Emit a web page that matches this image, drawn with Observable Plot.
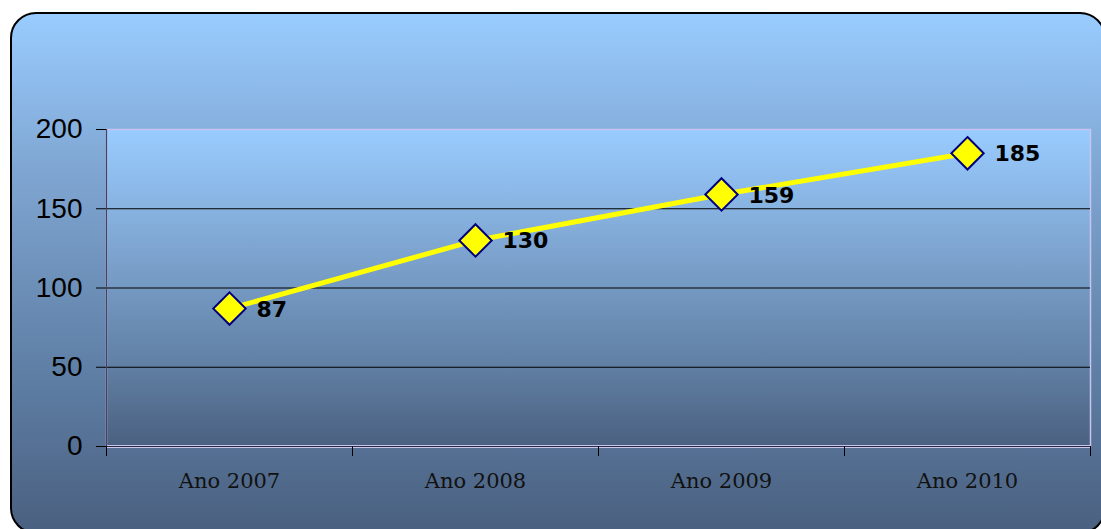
<!DOCTYPE html>
<html>
<head>
<meta charset="utf-8">
<script src="https://cdn.jsdelivr.net/npm/d3@7"></script>
<script src="https://cdn.jsdelivr.net/npm/@observablehq/plot@0.6"></script>
<style>
  html, body { margin: 0; padding: 0; width: 1101px; height: 529px; overflow: hidden; background: #fff; }
  #box {
    position: absolute; left: 10px; top: 12px; width: 1092px; height: 518px;
    border: 2px solid #000; border-radius: 26px;
    background: linear-gradient(to bottom, #99ccff 0%, #7fa6d2 30%, #5e7ea4 70%, #4a6080 100%);
  }
  #chart { position: absolute; left: 0; top: 0; }
</style>
</head>
<body>
<div id="box"></div>
<div id="chart"></div>
<script>
const categories = ["Ano 2007", "Ano 2008", "Ano 2009", "Ano 2010"];
const values = [87, 130, 159, 185];
const yTicks = [0, 50, 100, 150, 200];

const data = categories.map((c, i) => ({cat: c, pos: i + 0.5, value: values[i]}));

const plot = Plot.plot({
  width: 1101,
  height: 529,
  marginLeft: 106,
  marginRight: 11,
  marginTop: 129,
  marginBottom: 83,
  style: {background: "transparent", overflow: "visible"},
  x: {domain: [0, categories.length], axis: null},
  y: {domain: [0, 200], axis: null},
  marks: [
    Plot.frame({fill: "url(#plotGrad)", stroke: "#c8c4f0", strokeWidth: 1.5}),
    Plot.gridY(yTicks.filter(d => d > 0 && d < 200), {stroke: "#000", strokeOpacity: 1, strokeWidth: 1}),
    Plot.ruleY([0], {stroke: "#c8c4f0", strokeWidth: 3}),
    Plot.ruleY([0], {stroke: "#2a2a3a", strokeWidth: 1}),
    Plot.ruleX([0], {y1: 200, y2: 0, stroke: "#4a4060", strokeWidth: 1.2}),
    Plot.axisY(yTicks, {
      label: null, tickSize: 10, tickPadding: 14, stroke: "#000",
      fontSize: 28, fontFamily: "Liberation Sans, Arial, sans-serif", fill: "#000",
      tickFormat: d => String(d)
    }),
    Plot.axisX(d3.range(categories.length + 1), {
      label: null, anchor: "bottom", tickSize: 10, tickFormat: () => "", stroke: "#000"
    }),
    Plot.axisX(data.map(d => d.pos), {
      label: null, anchor: "bottom", tickSize: 0, tickPadding: 27,
      tickFormat: d => categories[Math.floor(d)],
      fontSize: 21, fontFamily: "DejaVu Serif, serif", fill: "#111"
    }),
    Plot.line(data, {x: "pos", y: "value", stroke: "#ffff00", strokeWidth: 5}),
    Plot.dot(data, {x: "pos", y: "value", symbol: "diamond2", r: 14.6, fill: "#ffff00", stroke: "#000080", strokeWidth: 2}),
    Plot.text(data, {x: "pos", y: "value", text: d => String(d.value), dx: 27, dy: 1, textAnchor: "start",
      fontSize: 22, fontWeight: "bold", fontFamily: "DejaVu Sans, Verdana, sans-serif", fill: "#000"})
  ]
});

const defs = d3.select(plot).insert("defs", ":first-child");
const g = defs.append("linearGradient").attr("id", "plotGrad").attr("x1", 0).attr("y1", 0).attr("x2", 0).attr("y2", 1);
g.append("stop").attr("offset", "0%").attr("stop-color", "#99ccff");
g.append("stop").attr("offset", "35%").attr("stop-color", "#80a8d4");
g.append("stop").attr("offset", "75%").attr("stop-color", "#607fa3");
g.append("stop").attr("offset", "100%").attr("stop-color", "#4a6080");

document.getElementById("chart").appendChild(plot);
</script>
</body>
</html>
